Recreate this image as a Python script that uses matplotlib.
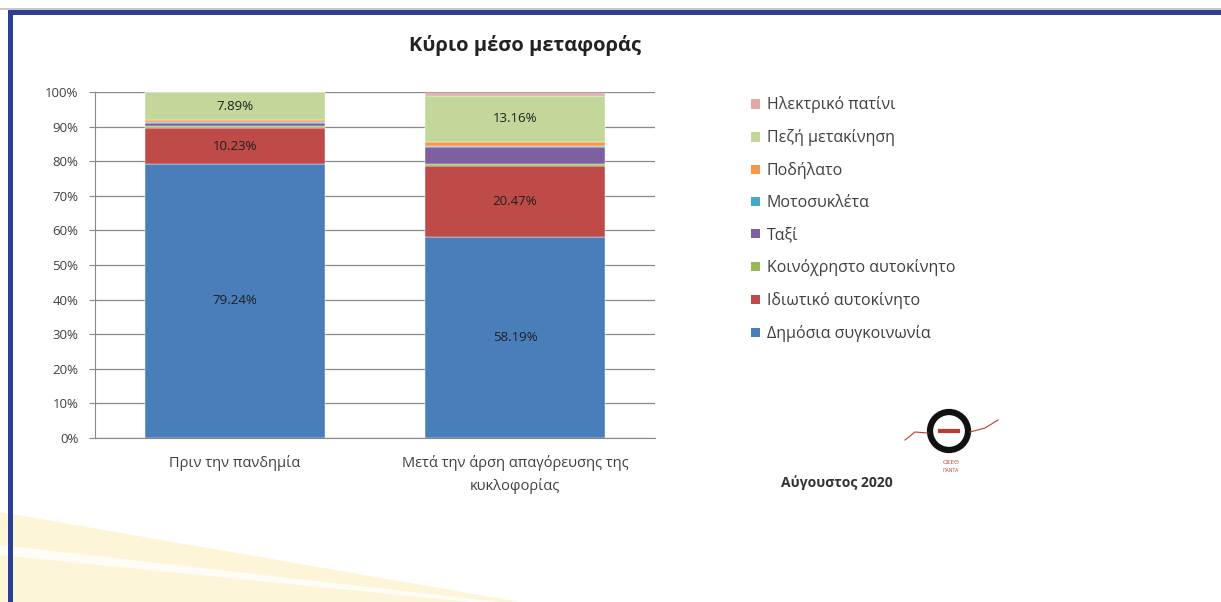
import numpy as np
import matplotlib.pyplot as plt
from matplotlib.patches import Patch, Polygon, Circle, Rectangle
from matplotlib.lines import Line2D

plt.rcParams['font.family'] = ['Open Sans', 'DejaVu Sans']

categories = ["Πριν την πανδημία", "Μετά την άρση απαγόρευσης της\nκυκλοφορίας"]
modes = ["Δημόσια συγκοινωνία", "Ιδιωτικό αυτοκίνητο", "Κοινόχρηστο αυτοκίνητο",
         "Ταξί", "Μοτοσυκλέτα", "Ποδήλατο", "Πεζή μετακίνηση", "Ηλεκτρικό πατίνι"]
public_transport = [79.24, 58.19]
private_car = [10.23, 20.47]
shared_car = [0.6, 0.5]
taxi = [1.0, 4.8]
motorcycle = [0.3, 0.3]
bicycle = [0.6, 1.4]
walking = [7.89, 13.16]
e_scooter = [0.3, 1.0]
colors = ["#4A7EBB", "#BE4B48", "#98B954", "#7D60A0", "#46AAC5", "#F79646", "#C4D79B", "#E6A8A6"]

series = [public_transport, private_car, shared_car, taxi, motorcycle, bicycle, walking, e_scooter]
labelled = {0, 1, 6}

fig = plt.figure(figsize=(12.21, 6.02), dpi=100, facecolor="white")

# background decoration: frame and yellow swoosh
bg = fig.add_axes([0, 0, 1, 1], zorder=-5)
bg.set_xlim(0, 1221)
bg.set_ylim(602, 0)
bg.axis("off")
bg.add_patch(Polygon([(0, 512), (520, 602), (0, 602)], color="#FCF3CF", lw=0, alpha=0.8))
bg.add_patch(Polygon([(0, 545), (500, 602), (470, 602), (0, 555)], color="white", lw=0, alpha=0.8))
bg.add_patch(Rectangle((0, 8), 1221, 1.5, color="#C8C8C8", lw=0))
bg.add_patch(Rectangle((8, 10), 1213, 5, color="#2B3F94", lw=0))
bg.add_patch(Rectangle((8, 10), 5, 592, color="#2B3F94", lw=0))

ax = fig.add_axes([95 / 1221, 1 - 438 / 602, 560 / 1221, 346 / 602])
x = np.arange(len(categories))
bottom = np.zeros(len(categories))
for i, (vals, col) in enumerate(zip(series, colors)):
    ax.bar(x, vals, 0.64, bottom=bottom, color=col, edgecolor="white", linewidth=0.3, zorder=3)
    if i in labelled:
        for xi, v, b in zip(x, vals, bottom):
            ax.text(xi, b + v / 2, f"{v:.2f}%", ha="center", va="center",
                    fontsize=9.5, color="#1F1F1F", zorder=4)
    bottom += np.array(vals)

ax.set_xlim(-0.5, 1.5)
ax.set_ylim(0, 100)
ax.set_yticks(np.arange(0, 101, 10))
ax.set_yticklabels([f"{t}%" for t in range(0, 101, 10)], fontsize=9.5, color="#404040")
ax.set_xticks(x)
ax.set_xticklabels(categories, fontsize=10.5, color="#404040", linespacing=1.6)
ax.tick_params(axis="x", length=0, pad=12)
ax.tick_params(axis="y", length=4, color="#888888", pad=8)
ax.yaxis.grid(True, color="#888888", linewidth=0.9, zorder=0)
for s in ["top", "right"]:
    ax.spines[s].set_visible(False)
ax.spines["left"].set_color("#888888")
ax.spines["bottom"].set_color("#888888")

fig.text(525 / 1221, 1 - 45 / 602, "Κύριο μέσο μεταφοράς", ha="center", va="center",
         fontsize=14.5, fontweight="bold", color="#222222")

handles = [Patch(facecolor=c, edgecolor="none") for c in colors]
fig.legend(handles[::-1], modes[::-1], loc="upper left", bbox_to_anchor=(737 / 1221, 1 - 82 / 602),
           frameon=False, fontsize=11.5, handlelength=0.55, handleheight=0.55, handletextpad=0.4,
           labelspacing=1.0, labelcolor="#404040")

fig.text(837 / 1221, 1 - 483 / 602, "Αύγουστος 2020", ha="center", va="center",
         fontsize=10, fontweight="bold", color="#333333")

# logo
bg.add_patch(Circle((949, 431), 19, fill=False, ec="#111111", lw=4.5))
bg.add_line(Line2D([940, 958], [431, 431], color="#C0392B", lw=3))
bg.add_line(Line2D([905, 915, 928], [440, 432, 433], color="#C0392B", lw=0.8))
bg.add_line(Line2D([970, 985, 998], [432, 428, 420], color="#C0392B", lw=0.8))
bg.text(951, 463, "ΟΣΕΘ", ha="center", va="center", fontsize=4.5, color="#C0392B")
bg.text(951, 471, "ΠΑΝΤΑ", ha="center", va="center", fontsize=3.5, color="#C0392B")

fig.savefig("out.png", dpi=100, facecolor="white")
